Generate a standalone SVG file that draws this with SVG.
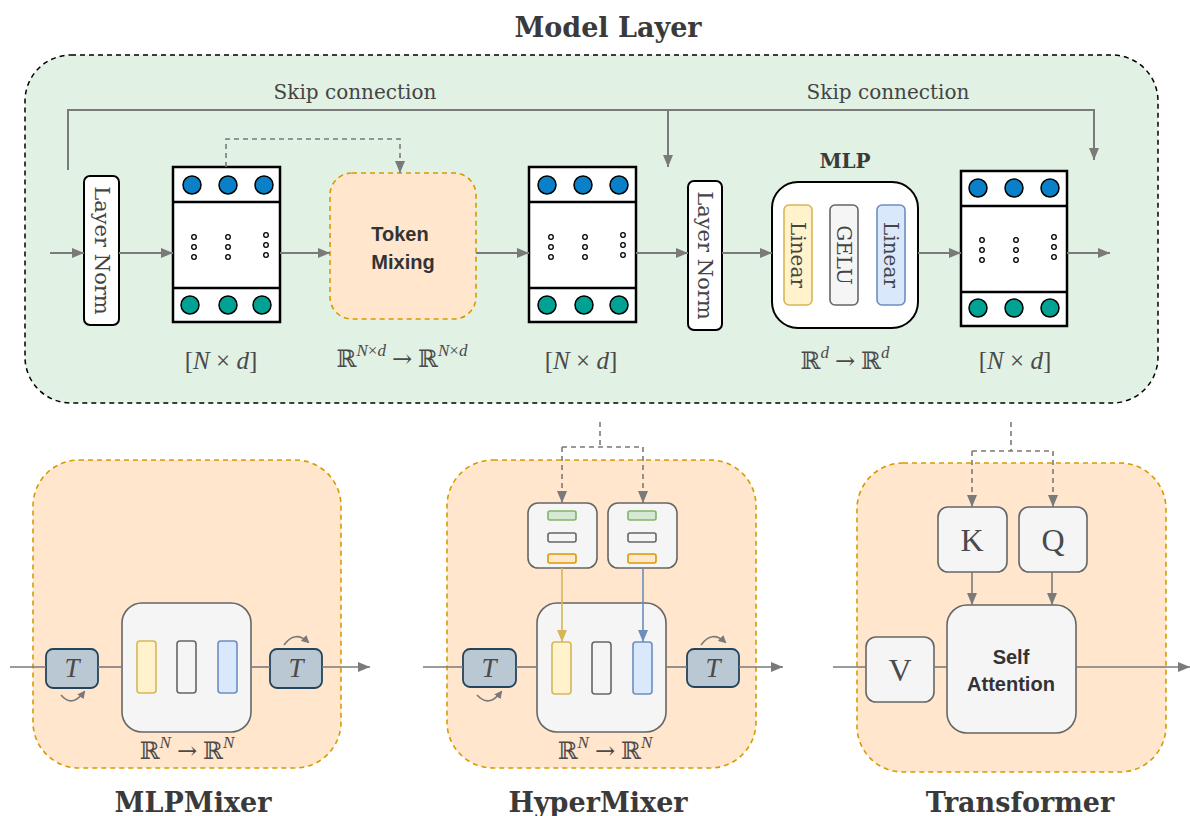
<svg xmlns="http://www.w3.org/2000/svg" width="1190" height="816" viewBox="0 0 1190 816">
<defs>
<style>
.conn{fill:none;stroke:#7a7a7a;stroke-width:2}
.thin{fill:none;stroke:#7a7a7a;stroke-width:1.6}
.dash{fill:none;stroke:#7a7a7a;stroke-width:1.6;stroke-dasharray:5 4}
.title{font-family:"DejaVu Serif",serif;font-weight:bold;font-size:27px;fill:#3a3a3a;text-anchor:middle}
.lbl{font-family:"DejaVu Serif",serif;font-size:20px;fill:#444;text-anchor:middle}
.math{font-family:"Liberation Serif","DejaVu Serif",serif;font-size:24px;fill:#4a4a4a;text-anchor:middle}
.dim{font-size:25px}
.it{font-style:italic}
.arr{font-family:"DejaVu Serif",serif}
.sans{font-family:"Liberation Sans",Arial,sans-serif;font-weight:bold;font-size:20px;fill:#333;text-anchor:middle}
.mat{fill:#fff;stroke:#000;stroke-width:2.5}
.cb{fill:#0a80c8;stroke:#000;stroke-width:1.5}
.ct{fill:#00a393;stroke:#000;stroke-width:1.5}
.dot{fill:#fff;stroke:#000;stroke-width:1.3}
.ln{fill:#fff;stroke:#000;stroke-width:2}
.panel{fill:#ffe6cc;stroke:#d79b00;stroke-width:1.6;stroke-dasharray:5 4}
.box{fill:#f5f5f5;stroke:#666;stroke-width:1.6}
.tbox{fill:#bac8d3;stroke:#23445d;stroke-width:1.8}
.yel{fill:#fff2cc;stroke:#d6b656;stroke-width:1.6}
.gry{fill:#f5f5f5;stroke:#666;stroke-width:1.6}
.blu{fill:#dae8fc;stroke:#6c8ebf;stroke-width:1.6}
.grn{fill:#d5e8d4;stroke:#82b366;stroke-width:1.6}
.org{fill:#ffe6cc;stroke:#d79b00;stroke-width:1.6}
.big{font-size:32px}
.tl{font-size:27px}
.sup{font-size:17px;font-style:italic}
</style>
<marker id="ah" viewBox="0 0 12 10" markerWidth="12" markerHeight="10" refX="12" refY="5" orient="auto" markerUnits="userSpaceOnUse"><path d="M0,0 L12,5 L0,10 z" fill="#7a7a7a"/></marker>
<marker id="ahy" viewBox="0 0 12 10" markerWidth="12" markerHeight="10" refX="12" refY="5" orient="auto" markerUnits="userSpaceOnUse"><path d="M0,0 L12,5 L0,10 z" fill="#d6b656"/></marker>
<marker id="ahb" viewBox="0 0 12 10" markerWidth="12" markerHeight="10" refX="12" refY="5" orient="auto" markerUnits="userSpaceOnUse"><path d="M0,0 L12,5 L0,10 z" fill="#6c8ebf"/></marker>
<marker id="ahs" viewBox="0 0 8 8" markerWidth="8" markerHeight="8" refX="6" refY="4" orient="auto" markerUnits="userSpaceOnUse"><path d="M0,0 L8,4 L0,8 z" fill="#7a7a7a"/></marker>
</defs>

<rect width="1190" height="816" fill="#fff"/>

<text class="title" x="608" y="37">Model Layer</text>

<g id="model-layer">
<rect x="25" y="55" width="1133" height="348" rx="46" fill="#e1f1e3" stroke="#000" stroke-width="1.5" stroke-dasharray="5 4"/>
<text class="lbl" x="355" y="99">Skip connection</text>
<text class="lbl" x="888" y="99">Skip connection</text>
</g>

<g id="layernorm1">
<rect class="ln" x="84" y="176" width="35" height="149" rx="6"/>
<text class="lbl" style="font-size:21px" transform="translate(101.5,250.5) rotate(90)" dy="7">Layer Norm</text>
</g>

<g id="matrix1">
<rect class="mat" x="173" y="167" width="107" height="155"/>
<line x1="173" y1="202" x2="280" y2="202" stroke="#000" stroke-width="2.5"/>
<line x1="173" y1="288" x2="280" y2="288" stroke="#000" stroke-width="2.5"/>
<circle class="cb" cx="192" cy="185" r="9"/><circle class="cb" cx="228" cy="185" r="9"/><circle class="cb" cx="264" cy="185" r="9"/>
<circle class="ct" cx="190" cy="305" r="9"/><circle class="ct" cx="228" cy="305" r="9"/><circle class="ct" cx="262" cy="305" r="9"/>
<circle class="dot" cx="194" cy="237" r="2.3"/><circle class="dot" cx="194" cy="247" r="2.3"/><circle class="dot" cx="194" cy="257" r="2.3"/>
<circle class="dot" cx="228" cy="237" r="2.3"/><circle class="dot" cx="228" cy="247" r="2.3"/><circle class="dot" cx="228" cy="257" r="2.3"/>
<circle class="dot" cx="266" cy="235" r="2.3"/><circle class="dot" cx="266" cy="245" r="2.3"/><circle class="dot" cx="266" cy="255" r="2.3"/>
<text class="math dim" x="221" y="369">[<tspan class="it">N</tspan> × <tspan class="it">d</tspan>]</text>
</g>

<g id="token-mixing">
<rect class="panel" x="330" y="173" width="146" height="146" rx="22"/>
<text class="sans" x="400" y="241">Token</text>
<text class="sans" x="403" y="269">Mixing</text>
<text class="math" x="402" y="367">ℝ<tspan class="sup" dy="-11">N</tspan><tspan class="sup" style="font-style:normal">×</tspan><tspan class="sup">d</tspan><tspan dy="11"> </tspan><tspan class="arr">→</tspan><tspan> ℝ</tspan><tspan class="sup" dy="-11">N</tspan><tspan class="sup" style="font-style:normal">×</tspan><tspan class="sup">d</tspan></text>
</g>

<g id="matrix2">
<rect class="mat" x="529" y="167" width="107" height="155"/>
<line x1="529" y1="202" x2="636" y2="202" stroke="#000" stroke-width="2.5"/>
<line x1="529" y1="288" x2="636" y2="288" stroke="#000" stroke-width="2.5"/>
<circle class="cb" cx="547" cy="185" r="9"/><circle class="cb" cx="583" cy="185" r="9"/><circle class="cb" cx="619" cy="185" r="9"/>
<circle class="ct" cx="547" cy="305" r="9"/><circle class="ct" cx="584" cy="305" r="9"/><circle class="ct" cx="619" cy="305" r="9"/>
<circle class="dot" cx="551" cy="237" r="2.3"/><circle class="dot" cx="551" cy="247" r="2.3"/><circle class="dot" cx="551" cy="257" r="2.3"/>
<circle class="dot" cx="585" cy="237" r="2.3"/><circle class="dot" cx="585" cy="247" r="2.3"/><circle class="dot" cx="585" cy="257" r="2.3"/>
<circle class="dot" cx="623" cy="235" r="2.3"/><circle class="dot" cx="623" cy="245" r="2.3"/><circle class="dot" cx="623" cy="255" r="2.3"/>
<text class="math dim" x="581" y="369">[<tspan class="it">N</tspan> × <tspan class="it">d</tspan>]</text>
</g>

<g id="layernorm2">
<rect class="ln" x="688" y="181" width="34" height="149" rx="6"/>
<text class="lbl" style="font-size:21px" transform="translate(705,255.5) rotate(90)" dy="7">Layer Norm</text>
</g>

<g id="mlp">
<text class="title" x="845" y="168" style="font-size:20px">MLP</text>
<rect class="ln" x="772" y="182" width="146" height="146" rx="26"/>
<rect class="yel" x="784" y="205" width="28" height="100" rx="5"/>
<rect class="gry" x="830" y="205" width="28" height="100" rx="5"/>
<rect class="blu" x="877" y="205" width="28" height="100" rx="5"/>
<text class="lbl" transform="translate(798,255) rotate(90)" dy="7">Linear</text>
<text class="lbl" transform="translate(844,255) rotate(90)" dy="7">GELU</text>
<text class="lbl" transform="translate(891,255) rotate(90)" dy="7">Linear</text>
<text class="math" x="845" y="369">ℝ<tspan class="sup" dy="-11">d</tspan><tspan dy="11"> </tspan><tspan class="arr">→</tspan><tspan> ℝ</tspan><tspan class="sup" dy="-11">d</tspan></text>
</g>

<g id="matrix3">
<rect class="mat" x="961" y="171" width="106" height="155"/>
<line x1="961" y1="206" x2="1067" y2="206" stroke="#000" stroke-width="2.5"/>
<line x1="961" y1="292" x2="1067" y2="292" stroke="#000" stroke-width="2.5"/>
<circle class="cb" cx="978" cy="188" r="9"/><circle class="cb" cx="1014" cy="188" r="9"/><circle class="cb" cx="1050" cy="188" r="9"/>
<circle class="ct" cx="978" cy="308" r="9"/><circle class="ct" cx="1014" cy="308" r="9"/><circle class="ct" cx="1050" cy="308" r="9"/>
<circle class="dot" cx="982" cy="240" r="2.3"/><circle class="dot" cx="982" cy="250" r="2.3"/><circle class="dot" cx="982" cy="260" r="2.3"/>
<circle class="dot" cx="1016" cy="240" r="2.3"/><circle class="dot" cx="1016" cy="250" r="2.3"/><circle class="dot" cx="1016" cy="260" r="2.3"/>
<circle class="dot" cx="1054" cy="237" r="2.3"/><circle class="dot" cx="1054" cy="247" r="2.3"/><circle class="dot" cx="1054" cy="257" r="2.3"/>
<text class="math dim" x="1015" y="369">[<tspan class="it">N</tspan> × <tspan class="it">d</tspan>]</text>
</g>

<!-- Bottom panels -->
<g id="mlpmixer">
<rect class="panel" x="33" y="460" width="308" height="308" rx="46"/>
<rect class="box" x="122" y="603" width="129" height="129" rx="20"/>
<rect class="yel" x="137" y="641" width="19" height="52" rx="3"/>
<rect class="gry" x="177" y="641" width="19" height="52" rx="3"/>
<rect class="blu" x="218" y="641" width="19" height="52" rx="3"/>
<rect class="tbox" x="46" y="649" width="52" height="39" rx="7"/>
<text class="math it tl" x="72" y="677">T</text>
<rect class="tbox" x="270" y="649" width="52" height="39" rx="7"/>
<text class="math it tl" x="296" y="677">T</text>
<text class="math" x="187" y="759">ℝ<tspan class="sup" dy="-11">N</tspan><tspan dy="11"> </tspan><tspan class="arr">→</tspan><tspan> ℝ</tspan><tspan class="sup" dy="-11">N</tspan></text>
<text class="title" x="193" y="812">MLPMixer</text>
</g>

<g id="hypermixer">
<rect class="panel" x="447" y="460" width="309" height="308" rx="46"/>
<rect class="box" x="528" y="503" width="69" height="65" rx="10"/>
<rect class="grn" x="548" y="511" width="28" height="9" rx="2"/>
<rect class="gry" x="548" y="533" width="28" height="9" rx="2"/>
<rect class="org" x="548" y="554" width="28" height="9" rx="2"/>
<rect class="box" x="608" y="503" width="69" height="65" rx="10"/>
<rect class="grn" x="628" y="511" width="28" height="9" rx="2"/>
<rect class="gry" x="628" y="533" width="28" height="9" rx="2"/>
<rect class="org" x="628" y="554" width="28" height="9" rx="2"/>
<rect class="box" x="537" y="603" width="129" height="129" rx="20"/>
<rect class="yel" x="552" y="642" width="19" height="52" rx="3"/>
<rect class="gry" x="592" y="642" width="19" height="52" rx="3"/>
<rect class="blu" x="633" y="642" width="19" height="52" rx="3"/>
<rect class="tbox" x="463" y="649" width="53" height="38" rx="7"/>
<text class="math it tl" x="489" y="677">T</text>
<rect class="tbox" x="687" y="649" width="52" height="38" rx="7"/>
<text class="math it tl" x="713" y="677">T</text>
<text class="math" x="605" y="759">ℝ<tspan class="sup" dy="-11">N</tspan><tspan dy="11"> </tspan><tspan class="arr">→</tspan><tspan> ℝ</tspan><tspan class="sup" dy="-11">N</tspan></text>
<text class="title" x="598" y="812">HyperMixer</text>
</g>

<g id="transformer">
<rect class="panel" x="857" y="463" width="309" height="309" rx="46"/>
<rect class="box" x="938" y="507" width="69" height="65" rx="10"/>
<text class="math big" x="972" y="551">K</text>
<rect class="box" x="1019" y="507" width="68" height="65" rx="10"/>
<text class="math big" x="1053" y="551">Q</text>
<rect class="box" x="866" y="637" width="68" height="65" rx="10"/>
<text class="math big" x="900" y="681">V</text>
<rect class="box" x="947" y="605" width="129" height="128" rx="20"/>
<text class="sans" x="1011" y="664">Self</text>
<text class="sans" x="1011" y="691">Attention</text>
<text class="title" x="1020" y="812">Transformer</text>
</g>

<g id="connectors">
<path class="conn" d="M50 253 H84" marker-end="url(#ah)"/>
<path class="conn" d="M119 253 H173" marker-end="url(#ah)"/>
<path class="conn" d="M280 253 H330" marker-end="url(#ah)"/>
<path class="conn" d="M476 253 H529" marker-end="url(#ah)"/>
<path class="conn" d="M636 253 H688" marker-end="url(#ah)"/>
<path class="conn" d="M722 253 H772" marker-end="url(#ah)"/>
<path class="conn" d="M918 253 H961" marker-end="url(#ah)"/>
<path class="conn" d="M1067 253 H1110" marker-end="url(#ah)"/>
<path class="conn" d="M68 170 V110 H1094 V160" marker-end="url(#ah)"/>
<path class="conn" d="M668 110 V167" marker-end="url(#ah)"/>
<path class="dash" d="M226 167 V139 H400 V173" marker-end="url(#ah)"/>

<path class="thin" d="M10 667 H46"/>
<path class="thin" d="M98 667 H122"/>
<path class="thin" d="M251 667 H270"/>
<path class="thin" d="M322 667 H370" marker-end="url(#ah)"/>
<path class="thin" d="M61 695 Q72 708 84 692" marker-end="url(#ahs)"/>
<path class="thin" d="M284 645 Q295 630 308 642" marker-end="url(#ahs)"/>

<path class="thin" d="M423 667 H463"/>
<path class="thin" d="M516 667 H537"/>
<path class="thin" d="M666 667 H687"/>
<path class="thin" d="M739 667 H783" marker-end="url(#ah)"/>
<path class="thin" d="M477 695 Q489 708 501 692" marker-end="url(#ahs)"/>
<path class="thin" d="M701 645 Q712 630 725 642" marker-end="url(#ahs)"/>
<path class="dash" d="M600 422 V447 M562 447 H643"/>
<path class="dash" d="M562 447 V503" marker-end="url(#ah)"/>
<path class="dash" d="M643 447 V503" marker-end="url(#ah)"/>
<path d="M562 568 V642" fill="none" stroke="#d6b656" stroke-width="1.6" marker-end="url(#ahy)"/>
<path d="M643 568 V642" fill="none" stroke="#6c8ebf" stroke-width="1.6" marker-end="url(#ahb)"/>

<path class="thin" d="M833 667 H866"/>
<path class="thin" d="M934 667 H947"/>
<path class="thin" d="M1076 667 H1190" marker-end="url(#ah)"/>
<path class="dash" d="M1011 422 V451 M972 451 H1053"/>
<path class="dash" d="M972 451 V507" marker-end="url(#ah)"/>
<path class="dash" d="M1053 451 V507" marker-end="url(#ah)"/>
<path class="thin" d="M972 572 V605" marker-end="url(#ah)"/>
<path class="thin" d="M1052 572 V605" marker-end="url(#ah)"/>
</g>
</svg>
